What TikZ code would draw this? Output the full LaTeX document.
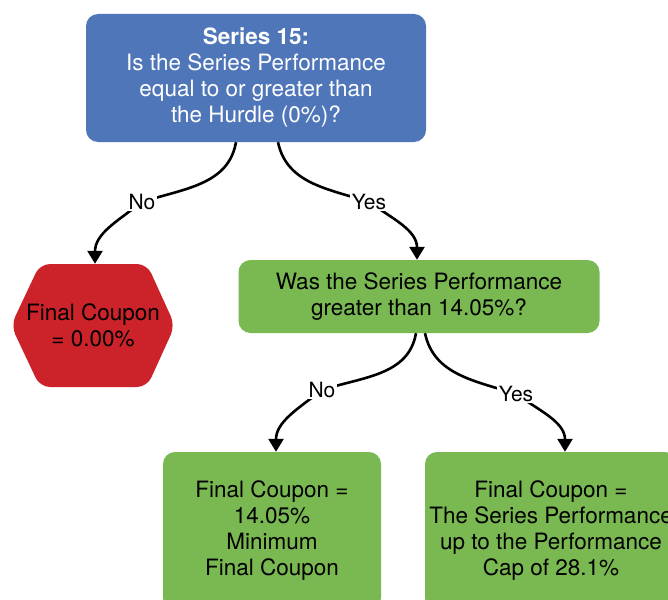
\documentclass[tikz,border=0pt]{standalone}
\usepackage{fontspec}
\setmainfont{TeX Gyre Heros}
\usetikzlibrary{arrows.meta}
\definecolor{qblue}{HTML}{4F76B9}
\definecolor{qred}{HTML}{CC2229}
\definecolor{qgreen}{HTML}{7AB852}
\begin{document}
\begin{tikzpicture}[x=1pt,y=1pt,
  txt/.style={font=\fontsize{22.5}{26}\selectfont, align=center},
  box/.style={txt, rounded corners=12pt, inner sep=0pt},
  lbl/.style={font=\fontsize{21}{24}\selectfont, fill=white, inner sep=1.5pt},
  conn/.style={line width=2.6pt, -{Triangle[width=15pt,length=13pt]}},
]
\useasboundingbox (0,0) rectangle (668,-599);
\clip (0,0) rectangle (668,-599);
\fill[white] (0,0) rectangle (668,-599);
% top question
\node[box, fill=qblue, text=white, minimum width=340pt, minimum height=128pt] (q1) at (256,-78)
  {\textbf{Series 15:}\\Is the Series Performance\\equal to or greater than\\the Hurdle (0\%)?};
% red hexagon
\fill[qred, rounded corners=10pt] (40,-264) -- (147,-264) -- (175,-325.5) -- (147,-387) -- (40,-387) -- (11,-325.5) -- cycle;
\node[txt, minimum width=164pt, minimum height=123pt, inner sep=0pt] (zero) at (93,-325.5) {Final Coupon\\= 0.00\%};
% second question
\node[box, fill=qgreen, minimum width=361pt, minimum height=73pt] (q2) at (419,-296.5)
  {Was the Series Performance\\greater than 14.05\%?};
% outcomes
\node[box, fill=qgreen, minimum width=218pt, minimum height=158pt] (c1) at (272,-531)
  {Final Coupon =\\14.05\%\\Minimum\\Final Coupon};
\node[box, fill=qgreen, minimum width=252pt, minimum height=158pt] (c2) at (551,-531)
  {Final Coupon =\\The Series Performance\\up to the Performance\\Cap of 28.1\%};
% label positions
\coordinate (pn1) at (142,-202);
\coordinate (py1) at (369,-202);
\coordinate (pn2) at (322,-390);
\coordinate (py2) at (516,-394);
% connectors
\draw[conn] ([xshift=-20pt]q1.south) to[out=-100,in=18] (pn1) to[out=218,in=90] ([xshift=2pt]zero.north);
\draw[conn] ([xshift=22pt]q1.south) to[out=-78,in=162] (py1) to[out=-35,in=90] ([xshift=-2pt]q2.north);
\draw[conn] ([xshift=-3pt]q2.south) to[out=-100,in=18] (pn2) to[out=218,in=90] ([xshift=4pt]c1.north);
\draw[conn] ([xshift=6pt]q2.south) to[out=-78,in=162] (py2) to[out=-35,in=90] ([xshift=14pt]c2.north);
% labels
\node[lbl] (l1) at (pn1) {No};
\node[lbl] (l2) at (py1) {Yes};
\node[lbl] (l3) at (pn2) {No};
\node[lbl] (l4) at (py2) {Yes};
\end{tikzpicture}
\end{document}
